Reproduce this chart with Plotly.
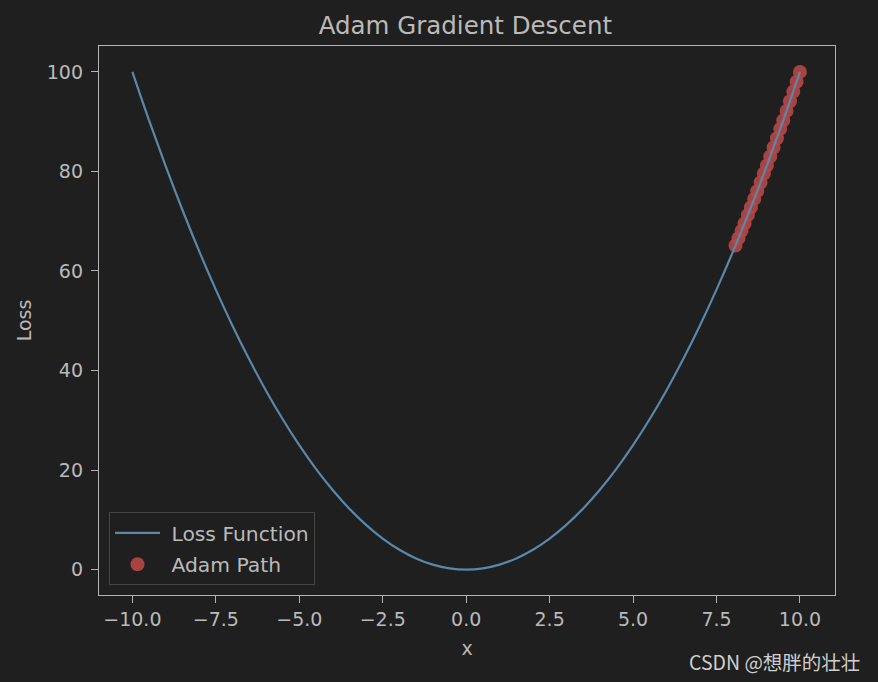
import plotly.graph_objects as go

# Loss curve samples (x, loss)
curve_x = [-10.0, -9.5, -9.0, -8.5, -8.0, -7.5, -7.0, -6.5, -6.0, -5.5, -5.0, -4.5, -4.0, -3.5, -3.0,
           -2.5, -2.0, -1.5, -1.0, -0.5, 0.0, 0.5, 1.0, 1.5, 2.0, 2.5, 3.0, 3.5, 4.0, 4.5, 5.0,
           5.5, 6.0, 6.5, 7.0, 7.5, 8.0, 8.5, 9.0, 9.5, 10.0]
curve_y = [100.0, 90.25, 81.0, 72.25, 64.0, 56.25, 49.0, 42.25, 36.0, 30.25, 25.0, 20.25, 16.0, 12.25, 9.0,
           6.25, 4.0, 2.25, 1.0, 0.25, 0.0, 0.25, 1.0, 2.25, 4.0, 6.25, 9.0, 12.25, 16.0, 20.25, 25.0,
           30.25, 36.0, 42.25, 49.0, 56.25, 64.0, 72.25, 81.0, 90.25, 100.0]

# Adam path points
path_x = [10.0, 9.9, 9.8, 9.70, 9.60, 9.50, 9.41, 9.31, 9.21, 9.11, 9.01,
          8.92, 8.82, 8.72, 8.63, 8.53, 8.44, 8.34, 8.25, 8.16, 8.07]
path_y = [100.0, 98.01, 96.04, 94.09, 92.16, 90.25, 88.55, 86.68, 84.82, 82.99, 81.18,
          79.57, 77.79, 76.04, 74.48, 72.76, 71.23, 69.56, 68.06, 66.59, 65.12]

x_ticks = [-10.0, -7.5, -5.0, -2.5, 0.0, 2.5, 5.0, 7.5, 10.0]
y_ticks = [0, 20, 40, 60, 80, 100]

BG = "#1f1f1f"
TXT = "#bababa"
FRAME = "#b4b4b4"
FONT = "DejaVu Sans"
FS = 19

fig = go.Figure()
# scatter drawn first so the line sits on top (as in the reference)
fig.add_trace(go.Scatter(x=path_x, y=path_y, mode="markers", name="\u00a0Adam Path", legendrank=2,
                         legendgroup="b",
                         marker=dict(color="rgba(178,70,70,0.92)", size=14, line=dict(width=0))))
fig.add_trace(go.Scatter(x=curve_x, y=curve_y, mode="lines", name="\u00a0Loss Function", legendrank=1,
                         legendgroup="a",
                         line=dict(color="#5a87aa", width=2.2, shape="spline")))

axis_common = dict(showgrid=False, zeroline=False, showline=True, linecolor=FRAME, linewidth=1.3,
                   mirror=True, ticks="outside", ticklen=7, tickwidth=1.3, tickcolor=FRAME,
                   tickfont=dict(family=FONT, size=FS, color=TXT))

fig.update_layout(
    width=878, height=682,
    paper_bgcolor=BG, plot_bgcolor=BG,
    margin=dict(l=99, r=43, t=46, b=87),
    font=dict(family=FONT, color=TXT),
    title=dict(text="Adam Gradient Descent", x=0.530, xanchor="center", y=0.9633, yanchor="middle",
               font=dict(family=FONT, size=24.5, color=TXT)),
    xaxis=dict(range=[-11, 11.05], tickvals=x_ticks, tickformat=".1f",
               title=dict(text="x", font=dict(family=FONT, size=FS, color=TXT), standoff=12),
               **axis_common),
    yaxis=dict(range=[-5.1, 105.2], tickvals=y_ticks, ticklabelstandoff=4,
               title=dict(text="Loss", font=dict(family=FONT, size=FS, color=TXT), standoff=10),
               **axis_common),
    legend=dict(x=0.0136, y=0.018, xanchor="left", yanchor="bottom", bgcolor=BG,
                bordercolor="#454545", borderwidth=1,
                font=dict(family=FONT, size=20.3, color=TXT), itemwidth=45,
                traceorder="grouped", tracegroupgap=2),
    showlegend=True,
)

fig.add_annotation(text="CSDN @想胖的壮壮", xref="paper", yref="paper", x=1.0367, y=-0.122,
                   xanchor="right", yanchor="middle", showarrow=False,
                   font=dict(family="Noto Sans CJK SC", size=19.5, color="#d0d0d0"))

fig.write_html("out.html", config={"displayModeBar": False},
               post_script="document.body.style.margin='0';document.body.style.background='#1f1f1f';")
